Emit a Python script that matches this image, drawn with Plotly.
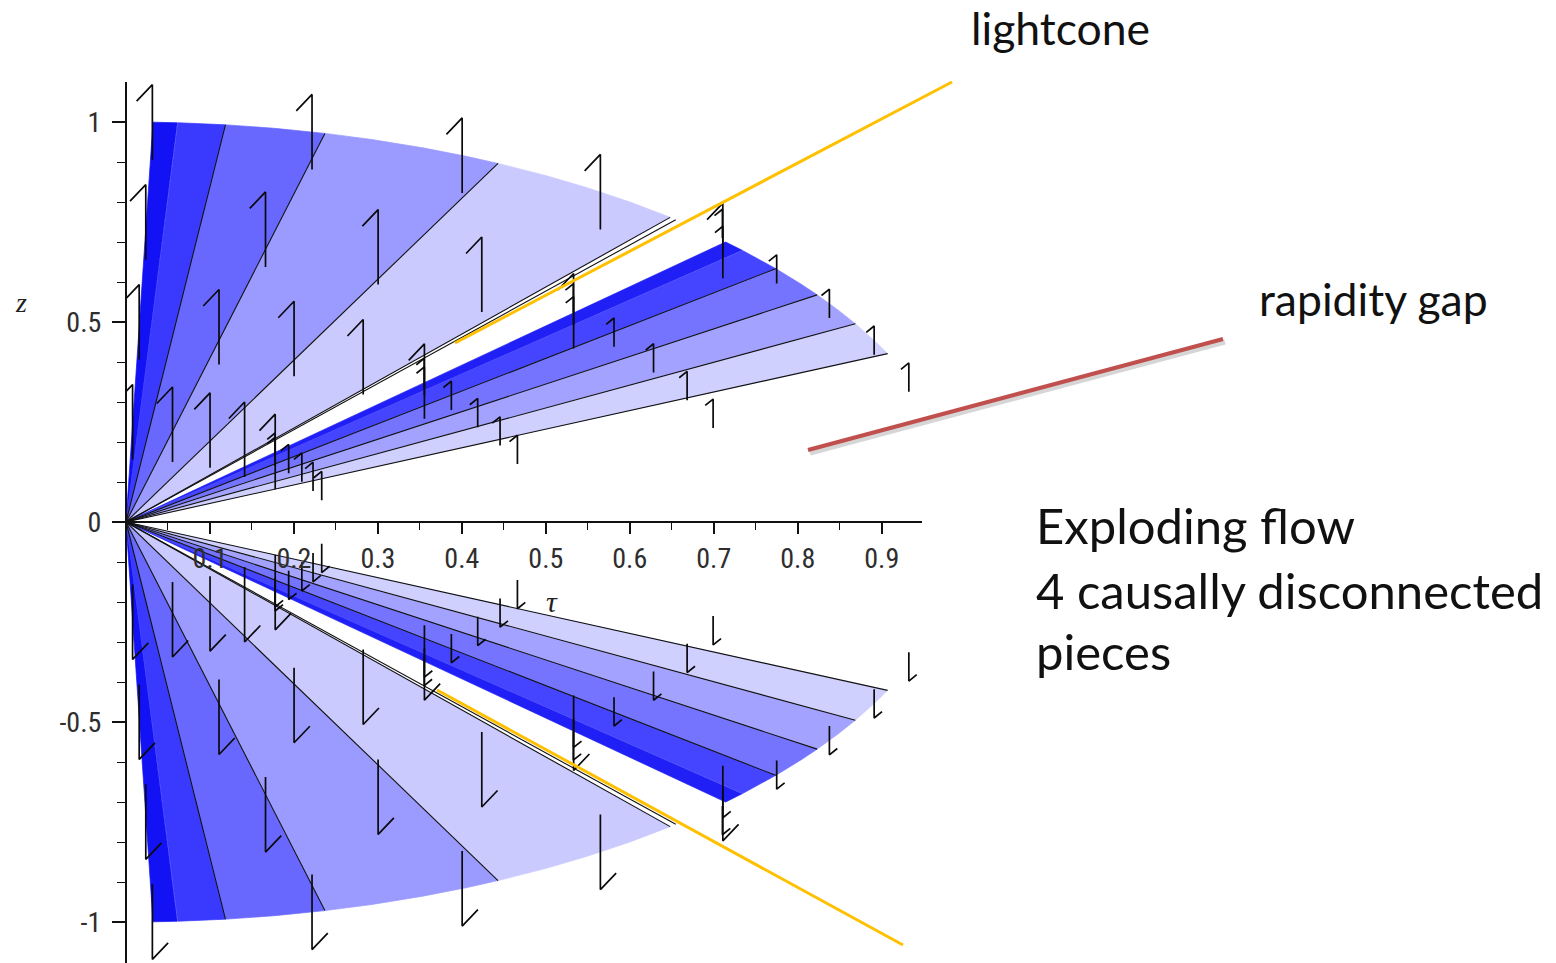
import numpy as np
import plotly.graph_objects as go

W, H = 1556, 963

# ---- contour bands: angles measured from the z axis (degrees) ----
upper_band_edges = [1.8, 3.5, 6.8, 13.7, 26.3, 40.4]
upper_band_colors = ['#1212f4', '#3a3aff', '#6868ff', '#9a9aff', '#cacaff']
upper_band_lines = [6.8, 13.7, 26.3, 40.4, 40.9]

cone_band_edges = [45.5, 47.2, 50.7, 55.4, 60.3, 65.1]
cone_band_colors = ['#2020f6', '#4545ff', '#7474ff', '#a3a3ff', '#d0d0ff']
cone_band_lines = [50.7, 55.4, 60.3, 65.1]

band_radius = 1.0

# ---- field arrows: rings of centres, directions along rays ----
ring_radii = [0.25, 0.5, 0.75, 1.0]
long_arrow_angles = [1.8, 12.8, 23.6, 34.4, 45.3]
long_arrow_len = 0.1875
short_arrow_angles = [43.6, 45.3, 50.8, 56.9, 63.0, 68.8]
short_arrow_ring_scale = [1.03, 1.0, 1.0, 1.0, 1.0, 1.0]
short_arrow_len = 0.072

# ---- axes ----
tau_range = [0, 0.948]
z_range = [-1.1025, 1.1]
tau_ticks = [0.1, 0.2, 0.3, 0.4, 0.5, 0.6, 0.7, 0.8, 0.9]
tau_minor = [0.05, 0.15, 0.25, 0.35, 0.45, 0.55, 0.65, 0.75, 0.85]
z_ticks = [-1, -0.5, 0, 0.5, 1]
z_tick_text = ['-1', '-0.5', '0', '0.5', '1']
z_minor = [-0.9, -0.8, -0.7, -0.6, -0.4, -0.3, -0.2, -0.1,
           0.1, 0.2, 0.3, 0.4, 0.6, 0.7, 0.8, 0.9]

# plot box in pixels
box_left, box_right = 126, 922
box_top, box_bottom = 82, 963
px_per_tau = (box_right - box_left) / (tau_range[1] - tau_range[0])
px_per_z = (box_bottom - box_top) / (z_range[1] - z_range[0])

fig = go.Figure()


def wedge(a0, a1, sign):
    th = np.radians(np.linspace(a0, a1, 80))
    t = np.concatenate([[0], band_radius * np.sin(th), [0]])
    z = np.concatenate([[0], band_radius * np.cos(th), [0]]) * sign
    return t, z


for edges, colors in ((upper_band_edges, upper_band_colors),
                      (cone_band_edges, cone_band_colors)):
    for i, col in enumerate(colors):
        for sign in (1, -1):
            t, z = wedge(edges[i], edges[i + 1], sign)
            fig.add_trace(go.Scatter(x=t, y=z, mode='lines', fill='toself',
                                     fillcolor=col, line=dict(width=0.7, color=col),
                                     hoverinfo='skip', showlegend=False))

# contour lines along rays
lx, ly = [], []
for a in upper_band_lines + cone_band_lines:
    th = np.radians(a)
    for sign in (1, -1):
        lx += [0, band_radius * np.sin(th), None]
        ly += [0, sign * band_radius * np.cos(th), None]
fig.add_trace(go.Scatter(x=lx, y=ly, mode='lines',
                         line=dict(color='#111111', width=1.1),
                         hoverinfo='skip', showlegend=False))

# field arrows (vertical, half-headed)
ax, ay = [], []


def add_arrow(tc, zc, length, sign):
    lpx = length * px_per_z
    bt = (0.17 * lpx + 3) / px_per_tau
    bz = (0.22 * lpx) / px_per_z
    if sign > 0:
        tail, tip = zc - length / 2, zc + length / 2
        ax.extend([tc, tc, tc - bt, None])
        ay.extend([tail, tip, tip - bz, None])
    else:
        tail, tip = -zc + length / 2, -zc - length / 2
        ax.extend([tc, tc, tc + bt, None])
        ay.extend([tail, tip, tip + bz, None])


for r in ring_radii:
    for a in long_arrow_angles:
        th = np.radians(a)
        for sign in (1, -1):
            add_arrow(r * np.sin(th), r * np.cos(th), long_arrow_len, sign)
    for a, s in zip(short_arrow_angles, short_arrow_ring_scale):
        th = np.radians(a)
        for sign in (1, -1):
            add_arrow(r * s * np.sin(th), r * s * np.cos(th), short_arrow_len, sign)

fig.add_trace(go.Scatter(x=ax, y=ay, mode='lines',
                         line=dict(color='#0a0a0a', width=1.7),
                         hoverinfo='skip', showlegend=False))

tick_font = dict(family='Roboto Condensed, Liberation Sans Narrow, Roboto, sans-serif',
                 size=28, color='#2e2e2e')

fig.update_layout(
    width=W, height=H,
    margin=dict(l=0, r=0, t=0, b=0),
    paper_bgcolor='white', plot_bgcolor='rgba(0,0,0,0)',
    xaxis=dict(domain=[box_left / W, box_right / W], range=tau_range,
               anchor='free', position=1 - (box_top + (z_range[1]) * px_per_z) / H,
               showline=True, linecolor='#111111', linewidth=2,
               ticks='outside', ticklen=11, tickwidth=1.6, tickcolor='#111111',
               tickvals=tau_ticks, ticktext=[f'{v:.1f}' for v in tau_ticks],
               minor=dict(tickvals=tau_minor, ticks='outside', ticklen=7,
                          tickwidth=1.4, tickcolor='#111111'),
               ticklabelstandoff=0,
               tickfont=tick_font, showgrid=False, zeroline=False,
               fixedrange=True),
    yaxis=dict(domain=[1 - box_bottom / H, 1 - box_top / H], range=z_range,
               anchor='free', position=box_left / W,
               showline=True, linecolor='#111111', linewidth=2,
               ticks='outside', ticklen=13, tickwidth=1.6, tickcolor='#111111',
               tickvals=z_ticks, ticktext=z_tick_text,
               minor=dict(tickvals=z_minor, ticks='outside', ticklen=8,
                          tickwidth=1.4, tickcolor='#111111'),
               ticklabelstandoff=5,
               tickfont=tick_font, showgrid=False, zeroline=False,
               fixedrange=True),
)


def px(x):
    return x / W


def py(y):
    return 1 - y / H


# callout lines
callouts = [
    ((455, 343), (952, 82), '#FFC000', 3),
    ((437, 690), (903, 945), '#FFC000', 3),
]
fig.add_shape(type='line', xref='paper', yref='paper',
              x0=px(810), y0=py(453), x1=px(1225), y1=py(342),
              line=dict(color='rgba(0,0,0,0.16)', width=5))
fig.add_shape(type='line', xref='paper', yref='paper',
              x0=px(808), y0=py(450), x1=px(1223), y1=py(339),
              line=dict(color='#C0504D', width=4))
for (x0, y0), (x1, y1), col, w in callouts:
    fig.add_shape(type='line', xref='paper', yref='paper',
                  x0=px(x0), y0=py(y0), x1=px(x1), y1=py(y1),
                  line=dict(color=col, width=w))

label_font = 'Lato, Open Sans, sans-serif'
texts = [
    ('lightcone', 969, 27, 44.5),
    ('rapidity gap', 1257, 298, 44.5),
    ('Exploding flow', 1034, 525, 49),
    ('4 causally disconnected', 1034, 590, 49),
    ('pieces', 1034, 651, 49),
]
for txt, x, y, s in texts:
    fig.add_annotation(text=txt, xref='paper', yref='paper', x=px(x), y=py(y),
                       xanchor='left', yanchor='middle', showarrow=False,
                       font=dict(family=label_font, size=s, color='#111111'))

fig.add_annotation(text='<i>z</i>', xref='paper', yref='paper', x=px(21), y=py(303),
                   xanchor='center', yanchor='middle', showarrow=False,
                   font=dict(family='Liberation Serif, serif', size=28, color='#222222'))
fig.add_annotation(text='<i>τ</i>', xref='paper', yref='paper', x=px(552), y=py(601),
                   xanchor='center', yanchor='middle', showarrow=False,
                   font=dict(family='Liberation Serif, serif', size=30, color='#222222'))

fig.write_html('out.html')
